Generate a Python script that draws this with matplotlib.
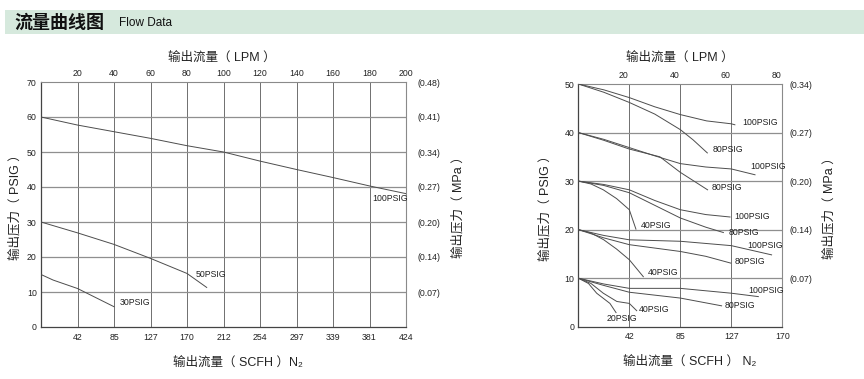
import matplotlib
matplotlib.use('Agg')
import matplotlib.pyplot as plt
from matplotlib.patches import Rectangle
from matplotlib.transforms import ScaledTranslation

plt.rcParams['font.family'] = ['Liberation Sans', 'Noto Sans CJK SC', 'DejaVu Sans']

# ---------------- data: left chart (x in LPM, y in PSIG) ----------------
left_lpm_ticks = [20, 40, 60, 80, 100, 120, 140, 160, 180, 200]
left_scfh_labels = ['42', '85', '127', '170', '212', '254', '297', '339', '381', '424']
left_psig_ticks = [0, 10, 20, 30, 40, 50, 60, 70]
left_mpa_labels = ['', '(0.07)', '(0.14)', '(0.20)', '(0.27)', '(0.34)', '(0.41)', '(0.48)']

left_100_x = [0, 20, 40, 60, 80, 100, 120, 140, 160, 180, 200]
left_100_y = [60, 57.7, 55.8, 53.9, 51.8, 50, 47.4, 45.0, 42.7, 40.3, 38.1]
left_50_x = [0, 20, 40, 60, 80, 90.8]
left_50_y = [30, 26.9, 23.6, 19.6, 15.3, 11.3]
left_30_x = [0, 6.7, 20, 40]
left_30_y = [15, 13.4, 11.0, 5.8]
left_label_text = ['100PSIG', '50PSIG', '30PSIG']
left_label_x = [181.4, 84.9, 43.3]
left_label_y = [36.6, 15.1, 6.9]

# ---------------- data: right chart (x in LPM, y in PSIG) ----------------
right_lpm_ticks = [20, 40, 60, 80]
right_scfh_labels = ['42', '85', '127', '170']
right_psig_ticks = [0, 10, 20, 30, 40, 50]
right_mpa_labels = ['', '(0.07)', '(0.14)', '(0.20)', '(0.27)', '(0.34)']

# inlet 50 PSIG
r50_100_x = [0, 10, 20, 30, 40, 50.3, 60, 61.4]
r50_100_y = [50, 48.8, 47.2, 45.3, 43.7, 42.4, 41.8, 41.6]
r50_80_x = [0, 10, 20, 30, 40, 45, 50.6]
r50_80_y = [50, 48.3, 46.2, 43.8, 40.6, 38.5, 35.8]
# inlet 40 PSIG
r40_100_x = [0, 10, 20, 30, 40, 50, 60, 69.3]
r40_100_y = [40, 38.6, 36.9, 35.2, 33.6, 32.9, 32.5, 31.3]
r40_80_x = [0, 10, 20, 32, 40, 50.7]
r40_80_y = [40, 38.4, 36.6, 35.0, 31.8, 28.2]
# inlet 30 PSIG
r30_100_x = [0, 10, 20, 30, 40, 50, 59.5]
r30_100_y = [30, 29.3, 28.2, 26.0, 24.1, 23.1, 22.6]
r30_80_x = [0, 10, 20, 30, 40, 50, 56.9]
r30_80_y = [30, 29.1, 27.6, 25.0, 22.4, 20.5, 19.4]
r30_40_x = [0, 5, 9.8, 15, 20, 22.6]
r30_40_y = [30, 29.4, 28.2, 26.4, 24.1, 20.1]
# inlet 20 PSIG
r20_100_x = [0, 10, 20, 40, 60, 75.8]
r20_100_y = [20, 18.8, 17.9, 17.6, 16.7, 14.8]
r20_80_x = [0, 10, 20, 40, 50, 59.8]
r20_80_y = [20, 18.3, 16.9, 15.5, 14.5, 13.1]
r20_40_x = [0, 5, 10, 15, 20, 25.5]
r20_40_y = [20, 19.3, 17.9, 16.0, 13.8, 10.3]
# inlet 10 PSIG
r10_100_x = [0, 10, 20, 40, 60, 70.6]
r10_100_y = [10, 8.8, 7.9, 7.9, 6.9, 6.2]
r10_80_x = [0, 10, 20, 40, 56.2]
r10_80_y = [10, 8.5, 7.1, 5.9, 4.3]
r10_40_x = [0, 5, 9.8, 15.1, 20, 22.9]
r10_40_y = [10, 8.9, 6.9, 5.2, 4.8, 3.3]
r10_20_x = [0, 4, 7.2, 12.4, 14.8]
r10_20_y = [10, 8.9, 6.9, 4.8, 2.9]

right_curves = [
    (r50_100_x, r50_100_y), (r50_80_x, r50_80_y),
    (r40_100_x, r40_100_y), (r40_80_x, r40_80_y),
    (r30_100_x, r30_100_y), (r30_80_x, r30_80_y), (r30_40_x, r30_40_y),
    (r20_100_x, r20_100_y), (r20_80_x, r20_80_y), (r20_40_x, r20_40_y),
    (r10_100_x, r10_100_y), (r10_80_x, r10_80_y), (r10_40_x, r10_40_y), (r10_20_x, r10_20_y),
]
right_label_text = ['100PSIG', '80PSIG', '100PSIG', '80PSIG', '100PSIG', '80PSIG', '40PSIG',
                    '100PSIG', '80PSIG', '40PSIG', '100PSIG', '80PSIG', '40PSIG', '20PSIG']
right_label_x = [64.2, 52.8, 67.3, 52.4, 61.0, 59.1, 24.6, 66.4, 61.4, 27.3, 66.5, 57.5, 23.8, 11.1]
right_label_y = [42.1, 36.5, 33.1, 28.7, 22.7, 19.4, 20.9, 16.7, 13.5, 11.1, 7.4, 4.3, 3.5, 1.7]

# ---------------- styles ----------------
W, H = 864, 379
fig = plt.figure(figsize=(W / 100, H / 100), dpi=100)
CURVE = '#4d4d4d'
GRID = '#8f8f8f'
TXT = '#222222'
TICK_FS = 6.3
LABEL_FS = 9


def fx(px):
    return px / W


def fy(py):
    return 1 - py / H


# header band
fig.patches.append(Rectangle((fx(5), fy(34)), 1 - fx(5), 24 / H, transform=fig.transFigure,
                             facecolor='#d6e9dd', edgecolor='none', zorder=0))
fig.text(fx(14), fy(22), '流量曲线图', fontsize=13, color='#111111', va='center', ha='left',
         fontweight='bold', family=['Noto Sans CJK SC', 'DejaVu Sans'])
fig.text(fx(119), fy(22.5), 'Flow Data', fontsize=8.5, color='#111111', va='center', ha='left')


def setup_axes(ax, xmax, ymax, lpm_ticks, scfh_labels, psig_ticks, mpa_labels, right_pad):
    ax.set_xlim(0, xmax)
    ax.set_ylim(0, ymax)
    ax.set_xticks(lpm_ticks)
    ax.set_xticklabels(scfh_labels)
    ax.set_yticks(psig_ticks)
    ax.set_yticklabels([str(v) for v in psig_ticks])
    ax.tick_params(axis='both', length=0, labelsize=TICK_FS, colors=TXT)
    ax.tick_params(axis='x', pad=4)
    ax.tick_params(axis='y', pad=3)
    for v in lpm_ticks[:-1]:
        ax.axvline(v, color='#6f6f6f', lw=0.7, zorder=1)
    for v in psig_ticks[1:-1]:
        ax.axhline(v, color=GRID, lw=0.9, zorder=1)
    for s in ['left', 'bottom']:
        ax.spines[s].set_color('#444444')
        ax.spines[s].set_linewidth(0.9)
    for s in ['top', 'right']:
        ax.spines[s].set_color('#8a8a8a')
        ax.spines[s].set_linewidth(0.8)
    top = ax.secondary_xaxis('top')
    top.set_xticks(lpm_ticks)
    top.set_xticklabels([str(v) for v in lpm_ticks])
    top.tick_params(length=0, labelsize=TICK_FS, colors=TXT, pad=3)
    top.spines['top'].set_visible(False)
    rt = ax.secondary_yaxis('right')
    rt.set_yticks(psig_ticks)
    rt.set_yticklabels(mpa_labels)
    rt.tick_params(length=0, labelsize=TICK_FS, colors=TXT, pad=right_pad)
    rt.spines['right'].set_visible(False)
    return top, rt


# ---------------- left chart ----------------
axL = fig.add_axes([fx(41), fy(327), fx(406) - fx(41), (327 - 82) / H])
setup_axes(axL, 200, 70, left_lpm_ticks, left_scfh_labels, left_psig_ticks, left_mpa_labels, 8)
for xs, ys in [(left_100_x, left_100_y), (left_50_x, left_50_y), (left_30_x, left_30_y)]:
    axL.plot(xs, ys, color=CURVE, lw=0.7, zorder=3)
for t, x, y in zip(left_label_text, left_label_x, left_label_y):
    axL.text(x, y, t, fontsize=TICK_FS, color=TXT, ha='left', va='center', zorder=4)

# ---------------- right chart ----------------
axR = fig.add_axes([fx(578.3), fy(326.7), fx(782.3) - fx(578.3), (326.7 - 84) / H])
topR, rtR = setup_axes(axR, 80, 50, right_lpm_ticks, right_scfh_labels, right_psig_ticks,
                       right_mpa_labels, 5)
for xs, ys in right_curves:
    axR.plot(xs, ys, color=CURVE, lw=0.7, zorder=3)
for t, x, y in zip(right_label_text, right_label_x, right_label_y):
    axR.text(x, y, t, fontsize=TICK_FS, color=TXT, ha='left', va='center', zorder=4)
shift = ScaledTranslation(-6 / 100, 0, fig.dpi_scale_trans)
for lab in topR.get_xticklabels():
    lab.set_transform(lab.get_transform() + shift)

# ---------------- axis titles ----------------
CJK = ['Liberation Sans', 'Noto Sans CJK SC', 'DejaVu Sans']
kw = dict(fontsize=LABEL_FS, color=TXT, family=CJK, ha='center', va='center')
fig.text(fx(222), fy(58), '输出流量（ LPM ）', **kw)
fig.text(fx(680), fy(58), '输出流量（ LPM ）', **kw)
fig.text(fx(238), fy(363), '输出流量（ SCFH ）N₂', **kw)
fig.text(fx(690), fy(362), '输出流量（ SCFH ） N₂', **kw)
fig.text(fx(15), fy(204.5), '输出压力（ PSIG ）', rotation=90, **kw)
fig.text(fx(458), fy(204.5), '输出压力（ MPa ）', rotation=90, **kw)
fig.text(fx(545), fy(205), '输出压力（ PSIG ）', rotation=90, **kw)
fig.text(fx(829), fy(205), '输出压力（ MPa ）', rotation=90, **kw)

fig.savefig('out.png', dpi=100)
